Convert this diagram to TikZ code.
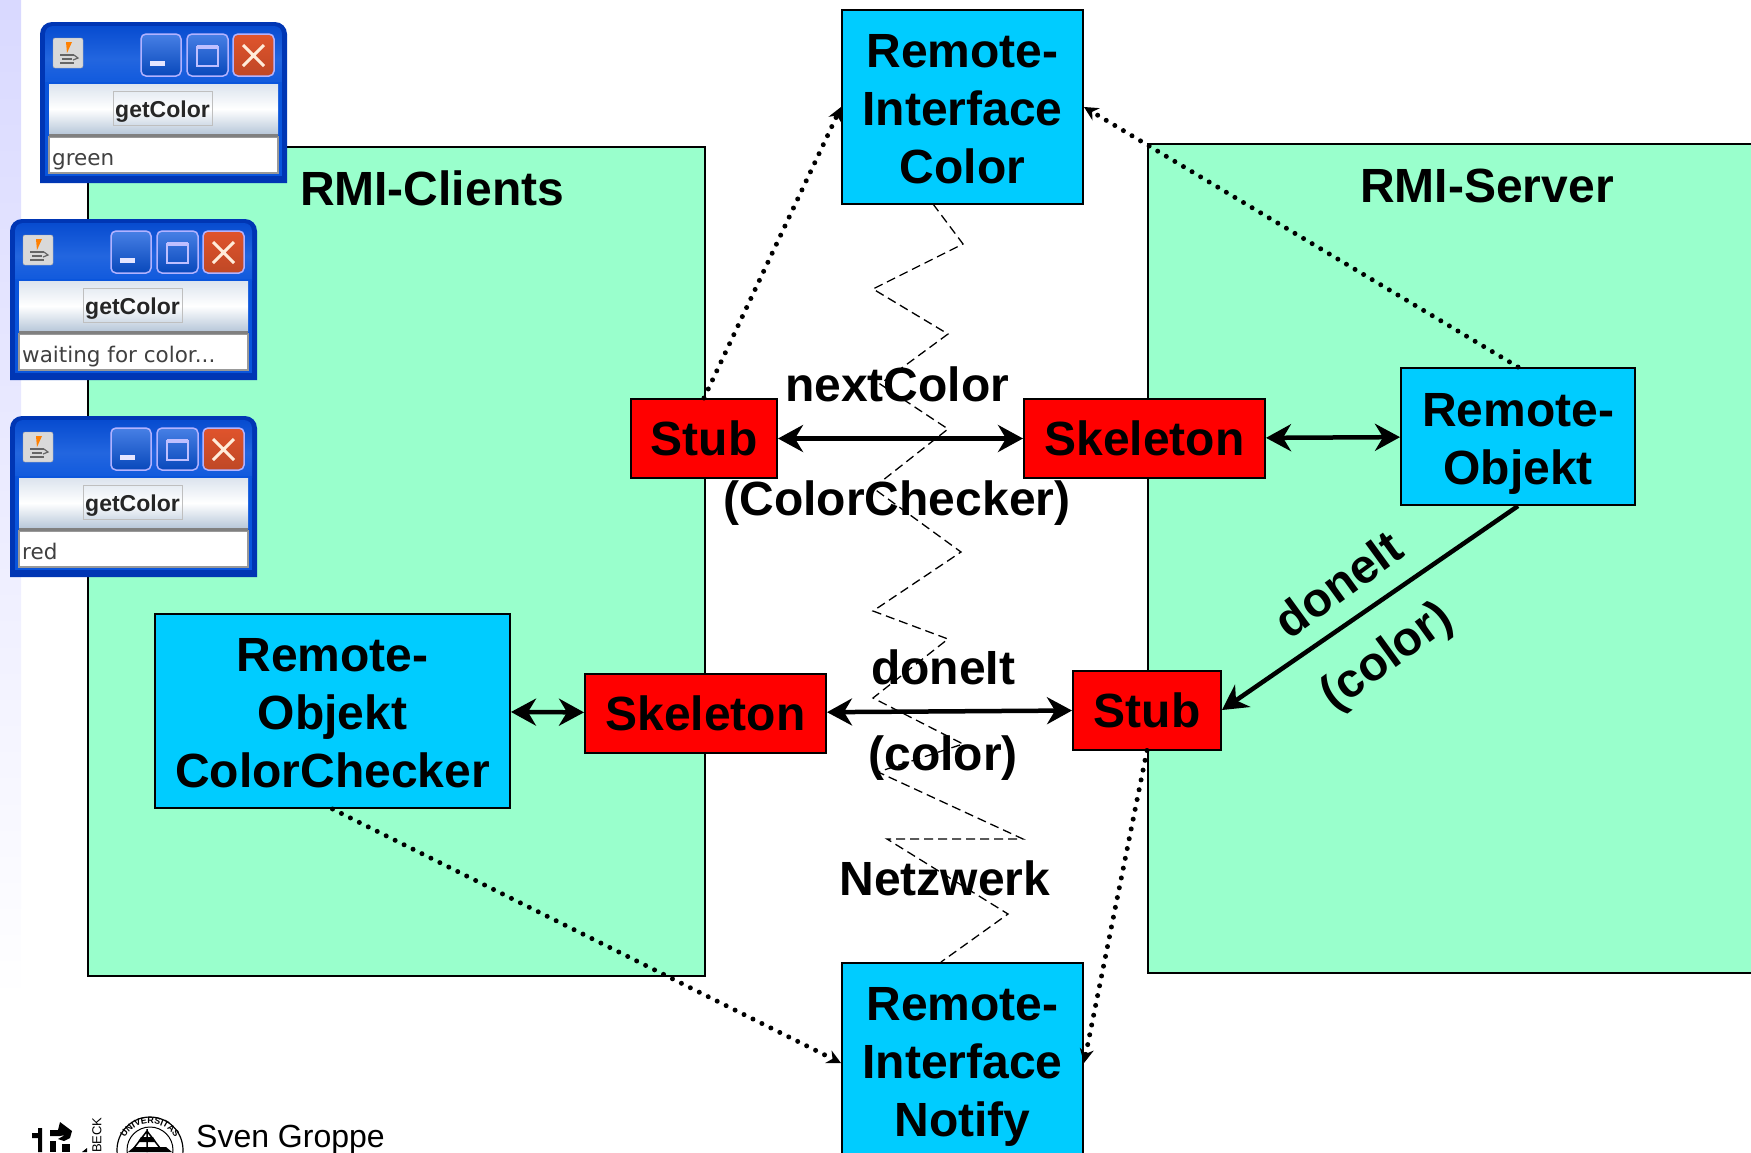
\documentclass[tikz,border=0pt]{standalone}
\usepackage{fontspec}
\setmainfont{Liberation Sans}
\newfontfamily\dialogfont{DejaVu Sans}
\usetikzlibrary{arrows.meta,decorations.text}
\definecolor{hostgreen}{HTML}{99FFCC}
\definecolor{objblue}{HTML}{00CCFF}
\definecolor{winblue}{HTML}{0A55DC}
\definecolor{windark}{HTML}{0036B4}
\definecolor{closered}{HTML}{E0542C}
\definecolor{btntop}{HTML}{DCE4EE}
\definecolor{btnbottom}{HTML}{B8C8DA}
\newcommand{\waittext}{waiting for color...}
\tikzset{
    box/.style={draw, line width=2pt, align=center, inner sep=0pt, font=\fontsize{48}{58}\selectfont\bfseries},
    objbox/.style={box, fill=objblue},
    stubbox/.style={box, fill=red},
    hostbox/.style={draw, line width=2pt, fill=hostgreen},
    txt/.style={font=\fontsize{48}{58}\selectfont\bfseries, inner sep=0pt},
    call/.style={<->, line width=4.5pt, >={Stealth[length=25pt,width=27pt,inset=8pt]}},
    dots/.style={->, line width=5pt, line cap=round, dash pattern=on 0pt off 10pt, >={Stealth[length=14pt,width=14pt]}},
    winbtn/.style={draw=white!70!blue, line width=1.5pt, rounded corners=5pt}
}
\begin{document}
\begin{tikzpicture}[x=1pt, y=-1pt]
    \useasboundingbox (0, 0) rectangle (1751, 1152);
    \clip (0, 0) rectangle (1751, 1152);
    \fill[top color=blue!15!white, bottom color=white, draw=none] (0, 0) rectangle (21, 1000);

    % hosts
    \draw[hostbox] (88, 147) rectangle (705, 976);
    \draw[hostbox] (1148, 144) rectangle (1760, 973);
    \node[txt] (clients) at (432, 188) {RMI-Clients};
    \node[txt] (server) at (1487, 186) {RMI-Server};

    % network
    \coordinate (n1) at (933, 204);
    \coordinate (n2) at (963, 244);
    \coordinate (n3) at (873, 289);
    \coordinate (n4) at (948, 334);
    \coordinate (n5) at (880, 384);
    \coordinate (n6) at (948, 429);
    \coordinate (n7) at (873, 488);
    \coordinate (n8) at (961, 552);
    \coordinate (n9) at (873, 611);
    \coordinate (n10) at (948, 639);
    \coordinate (n11) at (873, 698);
    \coordinate (n12) at (963, 744);
    \coordinate (n13) at (878, 772);
    \coordinate (n14) at (1023, 839);
    \coordinate (n15) at (887, 839);
    \coordinate (n16) at (1008, 914);
    \coordinate (n17) at (941, 962);
    \draw[dashed, line width=1.3pt, dash pattern=on 9pt off 5pt] (n1) -- (n2) -- (n3) -- (n4) -- (n5) -- (n6) -- (n7) -- (n8) -- (n9)
        -- (n10) -- (n11) -- (n12) -- (n13) -- (n14) -- (n15) -- (n16) -- (n17);

    % boxes
    \node[objbox, minimum width=241pt, minimum height=194pt] (color) at (962.5, 107) {\rule{0pt}{37pt}Remote-\\Interface\\Color};
    \node[objbox, minimum width=241pt, minimum height=200pt] (notify) at (962.5, 1063) {\rule{0pt}{40pt}Remote-\\Interface\\Notify};
    \node[stubbox, minimum width=146pt, minimum height=79pt] (stubl) at (704, 438.5) {Stub};
    \node[stubbox, minimum width=241pt, minimum height=79pt] (skelr) at (1144.5, 438.5) {Skeleton};
    \node[objbox, minimum width=234pt, minimum height=137pt] (objr) at (1518, 436.5) {\rule{0pt}{47pt}Remote-\\Objekt};
    \node[objbox, minimum width=355pt, minimum height=194pt] (objl) at (332.5, 711) {\rule{0pt}{38pt}Remote-\\Objekt\\ColorChecker};
    \node[stubbox, minimum width=241pt, minimum height=79pt] (skell) at (705.5, 713) {Skeleton};
    \node[stubbox, minimum width=148pt, minimum height=79pt] (stubr) at (1147, 710) {Stub};

    % calls
    \draw[call] (stubl) -- (skelr);
    \draw[call] (skelr) -- (objr);
    \draw[call] (objl) -- (skell);
    \draw[call] (skell) -- (stubr);
    \draw[call, <-] (stubr.east) -- (objr.south);

    \draw[dots] (stubl.north) -- (color.west);
    \draw[dots] (objr.north) -- (color.east);
    \draw[dots] (objl.south) -- (notify.west);
    \draw[dots] (stubr.south) -- (notify.east);

    % labels
    \node[txt] (next) at (897, 384) {nextColor};
    \node[txt] (checker) at (897, 503) {(ColorChecker)};
    \node[txt] (doneit) at (943, 667) {doneIt};
    \node[txt] (colorarg) at (943, 758) {(color)};
    \node[txt] (netz) at (945, 878) {Netzwerk};
    \node[txt, rotate=36] (doneitr) at (1338, 584) {doneIt};
    \node[txt, rotate=36] (colorr) at (1388, 658) {(color)};

    % windows
    \foreach \wname/\wx/\wy/\wtext in {wina/40/22/green, winb/10/219/\waittext, winc/10/416/red} {
        \begin{scope}[shift={(\wx, \wy)}]
            \fill[windark] (0, 161) [rounded corners=12pt] -- (0, 0) -- (247, 0) [sharp corners] -- (247, 161) -- cycle;
            \shade[top color=winblue!70!windark, bottom color=winblue, middle color=winblue!90!white, rounded corners=8pt] (5, 4) rectangle (242, 70);
            \fill[winblue] (5, 60) rectangle (242, 154);
            % icon
            \fill[white!85!black, draw=white!65!black, rounded corners=2pt] (13, 16) rectangle (43, 46);
            \fill[orange] (26, 20) -- (32, 20) -- (27, 31) -- cycle;
            \draw[black!60, line width=1.5pt] (20, 33) -- (34, 33) (22, 37) -- (32, 37) (20, 41) -- (34, 41);
            \draw[black!60, line width=1.2pt] (34, 33) -- (38, 36) -- (33, 38);
            % title buttons
            \shade[winbtn, top color=winblue!75!white, bottom color=winblue!85!black] (101, 12) rectangle (141, 54);
            \shade[winbtn, top color=winblue!75!white, bottom color=winblue!85!black] (147, 12) rectangle (188, 54);
            \shade[winbtn, top color=closered, bottom color=closered!85!black] (193, 12) rectangle (234, 54);
            \fill[white!90!blue] (110, 39) rectangle (125, 44);
            \draw[white!75!blue, line width=2pt] (157, 25) rectangle (178, 44);
            \draw[white!75!blue, line width=4pt] (157, 25) -- (178, 25);
            \draw[white!85!orange, line width=3pt] (203, 23) -- (224, 44) (224, 23) -- (203, 44);
            % content
            \shade[top color=btntop, bottom color=btnbottom, middle color=white] (9, 62) rectangle (238, 112);
            \draw[black!25, line width=1pt] (73, 69) rectangle (172, 103);
            \node[inner sep=0pt, anchor=base, text=black!85, font=\fontsize{23}{23}\selectfont\bfseries] (\wname-btn) at (122.5, 95) {getColor};
            \fill[white, draw=black!40, line width=1.5pt] (9, 115) rectangle (238, 151);
            \draw[black!50, line width=3pt] (9, 113) -- (238, 113);
            \node[inner sep=0pt, anchor=base west, text=black!75, font=\dialogfont\fontsize{21.5}{22}\selectfont] (\wname-txt) at (12, 143) {\wtext};
        \end{scope}
    }

    % footer
    \fill (32, 1133) -- (38, 1133) -- (38, 1128) -- (42, 1128) -- (42, 1152) -- (38, 1152) -- (38, 1138) -- (32, 1138) -- cycle;
    \fill (50, 1130) -- (58, 1130) -- (60, 1122) -- (72, 1131) -- (70, 1138) -- (64, 1141) -- (58, 1139) -- (65, 1135) -- (60, 1136) -- (50, 1136) -- cycle;
    \fill (50, 1141) rectangle (56, 1152);
    \fill (62, 1144) rectangle (70, 1152);
    \fill (82, 1152) -- (87, 1148) -- (87, 1152) -- cycle;
    \node[inner sep=0pt, rotate=90, anchor=west, font=\fontsize{13}{13}\selectfont] (beck) at (97, 1153) {BECK};
    \draw[line width=1.2pt] (150, 1150) circle (33);
    \draw[line width=1pt] (150, 1150) circle (23);
    \path[decorate, decoration={text along path, text align=center, text={|\fontsize{9}{9}\selectfont\bfseries|UNIVERSITAS}}]
        (122, 1152) .. controls (122, 1114) and (178, 1114) .. (178, 1152);
    \draw[line width=1.5pt] (147, 1129) -- (147, 1152) (147, 1131) -- (160, 1148) (147, 1131) -- (134, 1148);
    \fill (138, 1142) -- (156, 1142) -- (153, 1137) -- (141, 1137) -- cycle;
    \fill (128, 1152) -- (172, 1152) -- (166, 1147) -- (134, 1147) -- cycle;
    \node[inner sep=0pt, anchor=base west, font=\fontsize{32}{32}\selectfont] (author) at (196, 1147) {Sven Groppe};
\end{tikzpicture}
\end{document}
